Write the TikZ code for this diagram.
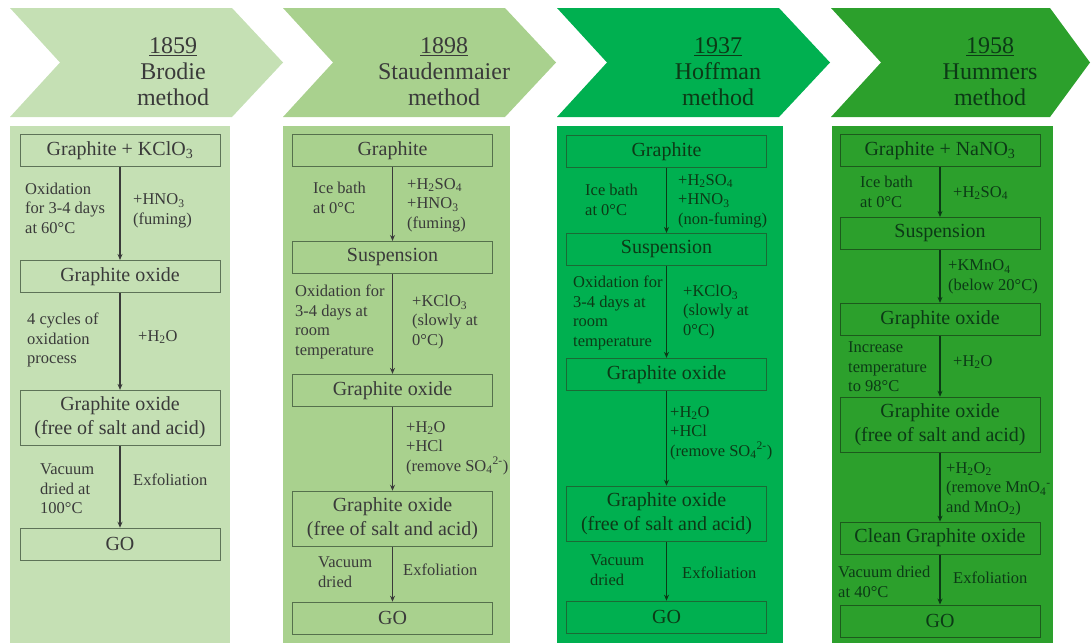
\documentclass[tikz,border=0pt]{standalone}
\usepackage{fontspec}
\setmainfont{Liberation Serif}
\usetikzlibrary{positioning,arrows.meta}

\definecolor{brodie}{HTML}{C5E0B4}
\definecolor{stauden}{HTML}{A9D18E}
\definecolor{hoffman}{HTML}{00B050}
\definecolor{hummers}{HTML}{2CA02C}
\definecolor{inkA}{HTML}{3A3A3A}
\definecolor{inkC}{HTML}{0C3A16}
\definecolor{rimA}{HTML}{5E7358}
\definecolor{rimB}{HTML}{55704C}
\definecolor{rimC}{HTML}{1A6A34}
\definecolor{rimD}{HTML}{1C5A1C}

\tikzset{
  headtxt/.style={align=center, font=\fontsize{24}{26}\selectfont},
  gbox/.style={draw=#1, line width=0.9pt, minimum width=200pt, minimum height=32pt,
    inner sep=2pt, align=center, font=\fontsize{20}{24}\selectfont},
  gbox2/.style={gbox=#1, minimum height=55pt},
  note/.style={anchor=west, align=left, inner sep=0pt, font=\fontsize{16.5}{19.5}\selectfont},
  flow/.style={draw=#1, line width=1.1pt, -{Stealth[length=6pt,width=5pt]}},
}

\begin{document}
\begin{tikzpicture}[x=1pt, y=-1pt]
\useasboundingbox (0,0) rectangle (1091,643);

% chevrons and panels
\foreach \L/\R/\T/\c in {10/232/283/brodie, 283/505/556/stauden, 557/779/830/hoffman, 831/1050/1090/hummers}
  \fill[\c] (\L,8) -- (\R,8) -- (\T,62.5) -- (\R,117) -- (\L,117) -- ({\L+50},62.5) -- cycle;
\fill[brodie] (10,126) rectangle (230,643);
\fill[stauden] (283,126) rectangle (510,643);
\fill[hoffman] (557,126) rectangle (783,643);
\fill[hummers] (832,126) rectangle (1053,643);

\node[headtxt, text=inkA](h1) at (173,72) {\underline{1859}\\Brodie\\method};
\node[headtxt, text=inkA](h2) at (444,72) {\underline{1898}\\Staudenmaier\\method};
\node[headtxt, text=inkC](h3) at (718,72) {\underline{1937}\\Hoffman\\method};
\node[headtxt, text=inkC](h4) at (990,72) {\underline{1958}\\Hummers\\method};

% Brodie
\begin{scope}[every node/.append style={text=inkA}]
\node[gbox=rimA](b11) at (120,150.5) {Graphite + KClO\textsubscript{3}};
\node[gbox=rimA](b12)[below = 93pt of b11] {Graphite oxide};
\node[gbox2=rimA](b13)[below = 97pt of b12] {Graphite oxide\\(free of salt and acid)};
\node[gbox=rimA](b14)[below = 82pt of b13] {GO};
\path[flow=inkA]
  (b11) edge (b12)
  (b12) edge (b13)
  (b13) edge (b14);
\node[note] at (25,208) {Oxidation\\for 3-4 days\\at 60°C};
\node[note] at (133,211) {+HNO\textsubscript{3}\\(fuming)};
\node[note] at (27,340) {4 cycles of\\oxidation\\process};
\node[note] at (138,337) {+H\textsubscript{2}O};
\node[note] at (40,489) {Vacuum\\dried at\\100°C};
\node[note] at (133,480) {Exfoliation};
\end{scope}

% Staudenmaier
\begin{scope}[every node/.append style={text=inkA}]
\node[gbox=rimB](b21) at (392.5,150.5) {Graphite};
\node[gbox=rimB](b22)[below = 74pt of b21] {Suspension};
\node[gbox=rimB](b23)[below = 100pt of b22] {Graphite oxide};
\node[gbox2=rimB](b24)[below = 84pt of b23] {Graphite oxide\\(free of salt and acid)};
\node[gbox=rimB](b25)[below = 55pt of b24] {GO};
\path[flow=inkA]
  (b21) edge (b22)
  (b22) edge (b23)
  (b23) edge (b24)
  (b24) edge (b25);
\node[note] at (313,198) {Ice bath\\at 0°C};
\node[note] at (407,205) {+H\textsubscript{2}SO\textsubscript{4}\\+HNO\textsubscript{3}\\(fuming)};
\node[note] at (295,322) {Oxidation for\\3-4 days at\\room\\temperature};
\node[note] at (412,322) {+KClO\textsubscript{3}\\(slowly at\\0°C)};
\node[note] at (406,448) {+H\textsubscript{2}O\\+HCl\\(remove SO\textsubscript{4}\textsuperscript{2-})};
\node[note] at (318,572) {Vacuum\\dried};
\node[note] at (403,570) {Exfoliation};
\end{scope}

% Hoffman
\begin{scope}[every node/.append style={text=inkC}]
\node[gbox=rimC](b31) at (666.5,151.5) {Graphite};
\node[gbox=rimC](b32)[below = 65pt of b31] {Suspension};
\node[gbox=rimC](b33)[below = 92pt of b32] {Graphite oxide};
\node[gbox2=rimC](b34)[below = 95pt of b33] {Graphite oxide\\(free of salt and acid)};
\node[gbox=rimC](b35)[below = 59pt of b34] {GO};
\path[flow=inkC]
  (b31) edge (b32)
  (b32) edge (b33)
  (b33) edge (b34)
  (b34) edge (b35);
\node[note] at (585,200) {Ice bath\\at 0°C};
\node[note] at (678,201) {+H\textsubscript{2}SO\textsubscript{4}\\+HNO\textsubscript{3}\\(non-fuming)};
\node[note] at (573,313) {Oxidation for\\3-4 days at\\room\\temperature};
\node[note] at (683,312) {+KClO\textsubscript{3}\\(slowly at\\0°C)};
\node[note] at (670,433) {+H\textsubscript{2}O\\+HCl\\(remove SO\textsubscript{4}\textsuperscript{2-})};
\node[note] at (590,570) {Vacuum\\dried};
\node[note] at (682,573) {Exfoliation};
\end{scope}

% Hummers
\begin{scope}[every node/.append style={text=inkC}]
\node[gbox=rimD](b41) at (940,150.5) {Graphite + NaNO\textsubscript{3}};
\node[gbox=rimD](b42)[below = 50pt of b41] {Suspension};
\node[gbox=rimD](b43)[below = 53pt of b42] {Graphite oxide};
\node[gbox2=rimD](b44)[below = 61pt of b43] {Graphite oxide\\(free of salt and acid)};
\node[gbox=rimD](b45)[below = 69pt of b44] {Clean Graphite oxide};
\node[gbox=rimD](b46)[below = 50pt of b45] {GO};
\path[flow=inkC]
  (b41) edge (b42)
  (b42) edge (b43)
  (b43) edge (b44)
  (b44) edge (b45)
  (b45) edge (b46);
\node[note] at (860,192) {Ice bath\\at 0°C};
\node[note] at (953,193) {+H\textsubscript{2}SO\textsubscript{4}};
\node[note] at (948,277) {+KMnO\textsubscript{4}\\(below 20°C)};
\node[note] at (848,367) {Increase\\temperature\\to 98°C};
\node[note] at (953,362) {+H\textsubscript{2}O};
\node[note] at (946,489) {+H\textsubscript{2}O\textsubscript{2}\\(remove MnO\textsubscript{4}\textsuperscript{-}\\and MnO\textsubscript{2})};
\node[note] at (838,582) {Vacuum dried\\at 40°C};
\node[note] at (953,578) {Exfoliation};
\end{scope}
\end{tikzpicture}
\end{document}
